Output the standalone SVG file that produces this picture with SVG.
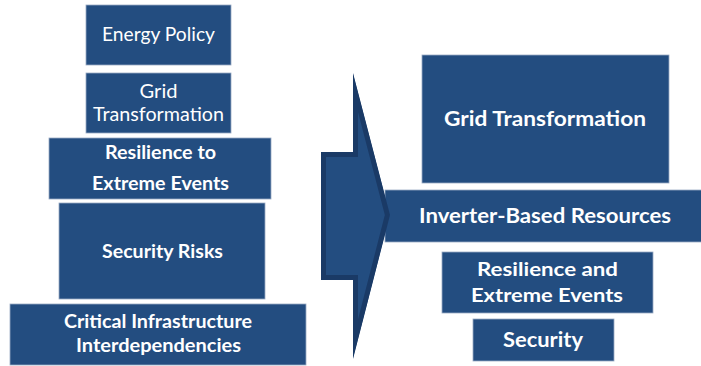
<svg xmlns="http://www.w3.org/2000/svg" width="701" height="366" viewBox="0 0 701 366">
  <style>
    .box { fill: #234d80; stroke: #9aabc4; stroke-width: 0.8; }
    .t { font-family: Lato, "Open Sans", "Liberation Sans", sans-serif; fill: #ffffff; text-anchor: middle; }
    .r { font-weight: 400; }
    .b { font-weight: 700; }
  </style>
  <defs>
    <clipPath id="arrowClip">
      <polygon points="321,152 353,152 353,73 390,215 353,359 353,280 321,280"/>
    </clipPath>
  </defs>
  <rect width="701" height="366" fill="#ffffff"/>

  <!-- left stack -->
  <g id="energy-policy">
    <rect class="box" x="86" y="5" width="145" height="60"/>
    <text class="t r" x="158.5" y="41" font-size="19.5" textLength="113" lengthAdjust="spacingAndGlyphs">Energy Policy</text>
  </g>
  <g id="grid-transformation-left">
    <rect class="box" x="86" y="73" width="145" height="60"/>
    <text class="t r" x="158.5" y="98" font-size="19.5" textLength="38" lengthAdjust="spacingAndGlyphs">Grid</text>
    <text class="t r" x="158.5" y="121" font-size="19.5" textLength="131" lengthAdjust="spacingAndGlyphs">Transformation</text>
  </g>
  <g id="resilience-left">
    <rect class="box" x="49" y="138" width="222" height="61"/>
    <text class="t b" x="160.5" y="159" font-size="18.5" textLength="111" lengthAdjust="spacingAndGlyphs">Resilience to</text>
    <text class="t b" x="160.5" y="190" font-size="18.5" textLength="137" lengthAdjust="spacingAndGlyphs">Extreme Events</text>
  </g>
  <g id="security-risks">
    <rect class="box" x="59" y="203" width="206" height="96"/>
    <text class="t b" x="162.5" y="258" font-size="18.5" textLength="121" lengthAdjust="spacingAndGlyphs">Security Risks</text>
  </g>
  <g id="critical-infrastructure">
    <rect class="box" x="10" y="304" width="296" height="61"/>
    <text class="t b" x="158" y="328" font-size="18" textLength="188" lengthAdjust="spacingAndGlyphs">Critical Infrastructure</text>
    <text class="t b" x="158.5" y="352" font-size="18" textLength="165" lengthAdjust="spacingAndGlyphs">Interdependencies</text>
  </g>

  <!-- right stack -->
  <g id="grid-transformation-right">
    <rect class="box" x="422" y="55" width="247" height="128"/>
    <text class="t b" x="545" y="126" font-size="20.5" textLength="202" lengthAdjust="spacingAndGlyphs">Grid Transformation</text>
  </g>
  <g id="inverter-based-resources">
    <rect class="box" x="385" y="190" width="320" height="52"/>
    <text class="t b" x="545" y="223" font-size="20.5" textLength="252" lengthAdjust="spacingAndGlyphs">Inverter-Based Resources</text>
  </g>
  <g id="resilience-right">
    <rect class="box" x="442" y="252" width="211" height="61"/>
    <text class="t b" x="547.5" y="276" font-size="19.5" textLength="141" lengthAdjust="spacingAndGlyphs">Resilience and</text>
    <text class="t b" x="547" y="302" font-size="19.5" textLength="152" lengthAdjust="spacingAndGlyphs">Extreme Events</text>
  </g>
  <g id="security">
    <rect class="box" x="473" y="319" width="141" height="42"/>
    <text class="t b" x="543" y="347" font-size="20.5" textLength="80" lengthAdjust="spacingAndGlyphs">Security</text>
  </g>

  <!-- central block arrow -->
  <g id="connectors">
    <polygon points="321,152 353,152 353,73 390,215 353,359 353,280 321,280" fill="#234d80" stroke="#1a3a66" stroke-width="10" stroke-linejoin="miter" clip-path="url(#arrowClip)"/>
  </g>
</svg>
